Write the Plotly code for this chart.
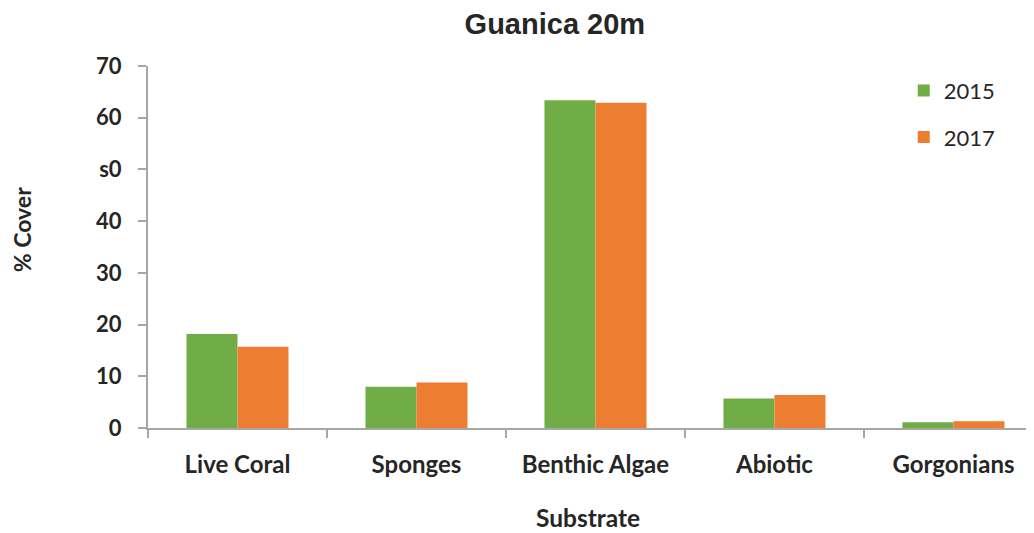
import plotly.graph_objects as go

categories = ["Live Coral", "Sponges", "Benthic Algae", "Abiotic", "Gorgonians"]
cover_2015 = [18.2, 8.0, 63.4, 5.7, 1.1]
cover_2017 = [15.7, 8.8, 62.9, 6.4, 1.3]
y_tick_vals = [0, 10, 20, 30, 40, 50, 60, 70]
y_tick_text = ["0", "10", "20", "30", "40", "s0", "60", "70"]

font_main = "Lato, 'Open Sans', Arial, sans-serif"
text_color = "#262626"
axis_color = "#A6A6A6"

fig = go.Figure()
fig.add_trace(go.Bar(x=categories, y=cover_2015, name="2015",
                     marker=dict(color="#70AD47", line=dict(width=0)),
                     legendgroup="a"))
fig.add_trace(go.Bar(x=categories, y=cover_2017, name="2017",
                     marker=dict(color="#ED7D31", line=dict(width=0)),
                     legendgroup="b"))

fig.update_layout(
    width=1026, height=525,
    margin=dict(l=140, r=0, t=58, b=105, autoexpand=False),
    paper_bgcolor="white", plot_bgcolor="white",
    barmode="group", bargap=0.43, bargroupgap=0,
    title=dict(text="<b>Guanica 20m</b>", x=0.533, xanchor="center",
               y=0.9695, yanchor="middle",
               font=dict(family="'Liberation Sans', Arial, sans-serif", size=29, color=text_color)),
    font=dict(family=font_main, color=text_color),
    showlegend=True,
    legend=dict(x=0.853, xanchor="left", y=0.99, yanchor="top",
                font=dict(size=22, color=text_color, family=font_main),
                traceorder="grouped", tracegroupgap=15,
                bgcolor="rgba(0,0,0,0)"),
    xaxis=dict(
        range=[-0.5, 4.45],
        showline=True, linecolor=axis_color, linewidth=2,
        ticks="outside", tickson="boundaries", ticklen=8, tickcolor=axis_color, tickwidth=2,
        tickfont=dict(size=24, family=font_main, color=text_color),
        ticklabelstandoff=14,
        showgrid=False,
    ),
    yaxis=dict(
        range=[0, 70],
        tickvals=y_tick_vals, ticktext=[f"<b>{t}</b>" for t in y_tick_text],
        showline=True, linecolor=axis_color, linewidth=2,
        ticks="outside", ticklen=8, tickcolor=axis_color, tickwidth=2,
        tickfont=dict(size=22, family=font_main, color=text_color),
        ticklabelstandoff=12,
        showgrid=False, zeroline=False,
    ),
    annotations=[
        dict(text="<b>% Cover</b>", xref="paper", yref="paper", x=-0.142, y=0.547,
             xanchor="center", yanchor="middle", textangle=-90, showarrow=False,
             font=dict(size=23, family=font_main, color=text_color)),
        dict(text="<b>Substrate</b>", xref="paper", yref="paper", x=0.4966, y=-0.2486,
             xanchor="center", yanchor="middle", showarrow=False,
             font=dict(size=24.5, family=font_main, color=text_color)),
    ],
)
fig.update_xaxes(tickvals=categories, ticktext=[f"<b>{c}</b>" for c in categories])

fig.write_html("out.html")
